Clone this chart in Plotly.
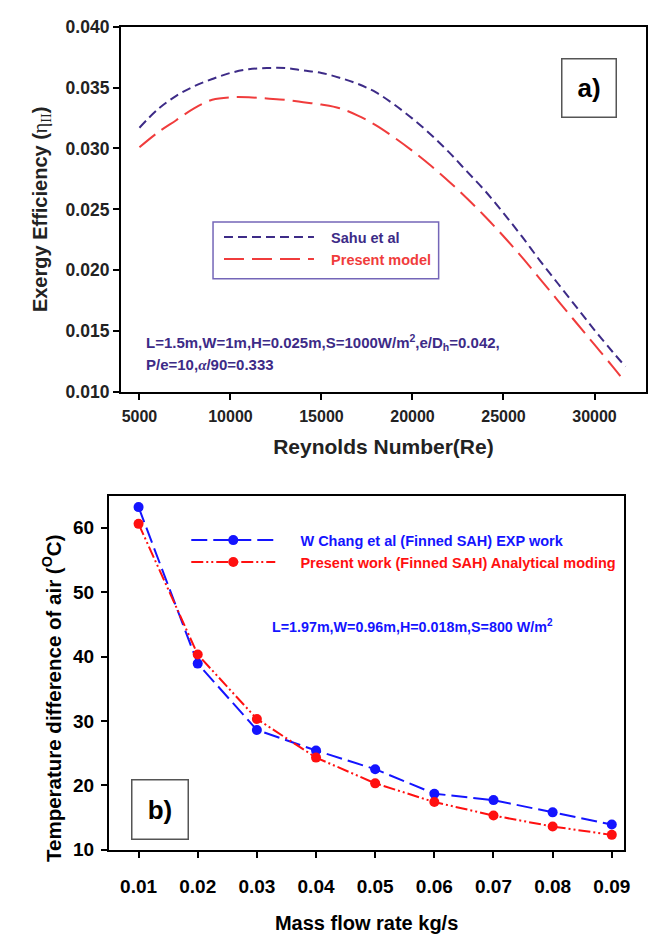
import plotly.graph_objects as go

# ---------------- data: panel a ----------------
re_vals = [5000, 6000, 7000, 8000, 9000, 10000, 11000, 12000, 13000, 14000, 15000,
           16000, 17000, 18000, 19000, 20000, 21000, 22000, 23000, 24000, 25000,
           26000, 27000, 28000, 29000, 30000, 31000, 31700]
sahu_eff = [0.0317, 0.0332, 0.0343, 0.0351, 0.0357, 0.0362, 0.0365, 0.0366, 0.0366, 0.0364, 0.0362,
            0.0358, 0.0353, 0.0346, 0.0336, 0.03245, 0.03115, 0.0297, 0.0281, 0.0265, 0.0247,
            0.0228, 0.0208, 0.0189, 0.0170, 0.0151, 0.0133, 0.0121]
present_eff = [0.0301, 0.0313, 0.0323, 0.0333, 0.0340, 0.0342, 0.0342, 0.0341, 0.0340, 0.0338, 0.0336,
               0.0333, 0.0327, 0.0319, 0.0309, 0.0298, 0.0286, 0.0273, 0.0259, 0.0244, 0.0228,
               0.0211, 0.0193, 0.0175, 0.0157, 0.0139, 0.0121, 0.0108]

# ---------------- data: panel b ----------------
mass_flow = [0.01, 0.02, 0.03, 0.04, 0.05, 0.06, 0.07, 0.08, 0.09]
chang_dt = [63.2, 38.9, 28.6, 25.4, 22.5, 18.7, 17.7, 15.8, 13.9]
present_dt = [60.6, 40.3, 30.3, 24.3, 20.3, 17.4, 15.3, 13.6, 12.3]

re_ticks = [5000, 10000, 15000, 20000, 25000, 30000]
eff_ticks = [0.010, 0.015, 0.020, 0.025, 0.030, 0.035, 0.040]
mf_ticks = mass_flow
dt_ticks = [10, 20, 30, 40, 50, 60]

PURPLE = "#3d2b87"
RED_A = "#f03c3c"
BLUE = "#1414ff"
RED_B = "#ff1010"
FONT = "Liberation Sans"

W, H = 654, 934

def px(x):
    return x / W

def py(y):
    return 1 - y / H

NB = "&nbsp;"

fig = go.Figure()

fig.add_trace(go.Scatter(
    x=re_vals, y=sahu_eff, mode="lines", line_shape="spline",
    name=f"{NB*3}<span style='color:{PURPLE}'>Sahu et al</span>",
    line=dict(color=PURPLE, width=2, dash="9px,5px"),
    xaxis="x", yaxis="y", legend="legend"))
fig.add_trace(go.Scatter(
    x=re_vals, y=present_eff, mode="lines", line_shape="spline",
    name=f"{NB*3}<span style='color:{RED_A}'>Present model</span>",
    line=dict(color=RED_A, width=2, dash="20px,8px"),
    xaxis="x", yaxis="y", legend="legend"))

fig.add_trace(go.Scatter(
    x=mass_flow, y=chang_dt, mode="lines+markers",
    name=f"{NB*5}<span style='color:{BLUE}'>W Chang et al (Finned SAH) EXP work</span>",
    line=dict(color=BLUE, width=2, dash="16px,6px"),
    marker=dict(color=BLUE, size=10),
    xaxis="x2", yaxis="y2", legend="legend2"))
fig.add_trace(go.Scatter(
    x=mass_flow, y=present_dt, mode="lines+markers",
    name=f"{NB*5}<span style='color:{RED_B}'>Present work (Finned SAH) Analytical moding</span>",
    line=dict(color=RED_B, width=2, dash="12px,3px,2px,3px,2px,3px"),
    marker=dict(color=RED_B, size=10),
    xaxis="x2", yaxis="y2", legend="legend2"))

axis_common = dict(showline=True, mirror=True, linecolor="black", linewidth=2,
                   ticks="outside", ticklen=6, tickwidth=2, tickcolor="black",
                   showgrid=False, zeroline=False)

fig.update_layout(
    width=W, height=H,
    margin=dict(l=0, r=0, t=0, b=0),
    paper_bgcolor="white", plot_bgcolor="white",
    font=dict(family=FONT, color="black"),
    xaxis=dict(domain=[px(122), px(652)], range=[3980, 32830], anchor="y",
               tickvals=re_ticks, ticktext=[str(v) for v in re_ticks],
               tickfont=dict(size=16, weight="bold", color="#222"), ticklabelstandoff=3,
               title=dict(text="Reynolds Number(Re)", standoff=15,
                          font=dict(size=21, weight="bold", color="#222")),
               **axis_common),
    yaxis=dict(domain=[py(391), py(17)], range=[0.010, 0.040], anchor="x",
               tickvals=eff_ticks, ticktext=[f"{v:.3f}" for v in eff_ticks],
               tickfont=dict(size=17.5, weight="bold", color="#222"),
               title=dict(text="Exergy Efficiency (<span style='font-family:Liberation Serif;font-weight:normal'>η<sub>II</sub></span>)",
                          standoff=13, font=dict(size=20, weight="bold", color="#222")),
               **axis_common),
    xaxis2=dict(domain=[px(110), px(630)], range=[0.005, 0.0921], anchor="y2",
                tickvals=mf_ticks, ticktext=[f"{v:.2f}" for v in mf_ticks],
                tickfont=dict(size=19, weight="bold"), ticklabelstandoff=13,
                title=dict(text="Mass flow rate kg/s", standoff=20,
                           font=dict(size=20, weight="bold")),
                **axis_common),
    yaxis2=dict(domain=[py(859), py(496.7)], range=[10, 65], anchor="x2",
                tickvals=dt_ticks, ticktext=[str(v) for v in dt_ticks],
                tickfont=dict(size=19, weight="bold"), ticklabelstandoff=3,
                title=dict(text="Temperature difference of air (<sup>O</sup>C)" + NB * 9,
                           standoff=6, font=dict(size=20.5, weight="bold")),
                **axis_common),
    legend=dict(x=px(221), y=py(216), xanchor="left", yanchor="top",
                bgcolor="rgba(0,0,0,0)", borderwidth=0, itemwidth=90,
                font=dict(size=14.5, weight="bold"), tracegroupgap=0),
    legend2=dict(x=px(188), y=py(526), xanchor="left", yanchor="top",
                 bgcolor="rgba(0,0,0,0)", borderwidth=0, itemwidth=84,
                 font=dict(size=14.5, weight="bold"), tracegroupgap=0),
    showlegend=True,
)

# legend frame for panel a
fig.add_shape(type="rect", xref="paper", yref="paper",
              x0=px(215), x1=px(442.7), y0=py(275), y1=py(217),
              line=dict(color="#7466b8", width=1.5), fillcolor="rgba(0,0,0,0)")

# panel labels
fig.add_annotation(text="a)", xref="paper", yref="paper", x=px(594.2), y=py(79.5),
                   xanchor="center", yanchor="middle", showarrow=False,
                   width=53, height=57, borderpad=0, borderwidth=1.5, bordercolor="#555",
                   font=dict(size=26, weight="bold", color="black"))
fig.add_annotation(text="b)", xref="paper", yref="paper", x=px(161.5), y=py(818),
                   xanchor="center", yanchor="middle", showarrow=False,
                   width=55, height=58, borderpad=0, borderwidth=1.5, bordercolor="#555",
                   font=dict(size=26, weight="bold", color="black"))

# parameter notes
fig.add_annotation(text="L=1.5m,W=1m,H=0.025m,S=1000W/m<sup>2</sup>,e/D<sub>h</sub>=0.042,",
                   xref="paper", yref="paper", x=px(145), y=py(340),
                   xanchor="left", yanchor="middle", showarrow=False,
                   font=dict(size=15, weight="bold", color=PURPLE))
fig.add_annotation(text="P/e=10,<span style='font-family:Liberation Serif'><i>α</i></span>/90=0.333",
                   xref="paper", yref="paper", x=px(145), y=py(363),
                   xanchor="left", yanchor="middle", showarrow=False,
                   font=dict(size=15, weight="bold", color=PURPLE))
fig.add_annotation(text="L=1.97m,W=0.96m,H=0.018m,S=800 W/m<sup>2</sup>",
                   xref="paper", yref="paper", x=px(272), y=py(630),
                   xanchor="left", yanchor="middle", showarrow=False,
                   font=dict(size=14.3, weight="bold", color=BLUE))

fig.write_html("out.html")
